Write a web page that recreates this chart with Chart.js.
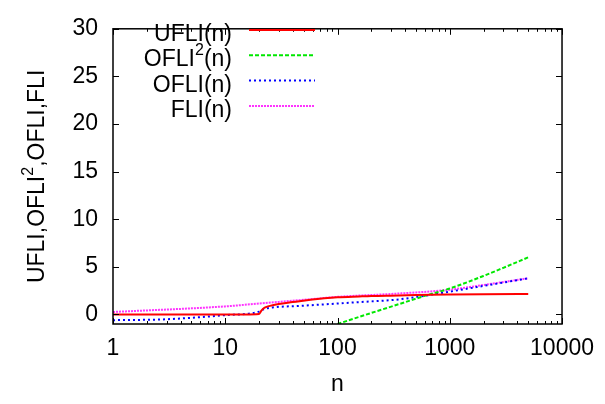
<!DOCTYPE html>
<html>
<head>
<meta charset="utf-8">
<script src="https://cdn.jsdelivr.net/npm/chart.js@4/dist/chart.umd.min.js"></script>
<style>
  html, body { margin: 0; padding: 0; background: #fff; }
  #wrap { width: 605px; height: 404px; }
</style>
</head>
<body>
<div id="wrap"><canvas id="fliChart" width="605" height="404"></canvas></div>
<script>
// iteration counts and indicator values
var n_ufli = [1, 5, 10, 15, 20, 21, 22, 24, 27, 30, 40, 46, 60, 100, 156, 200, 350, 500, 1000, 2000, 5000];
var ufli   = [0, 0, 0, 0, 0.05, 0.4, 0.65, 0.85, 1.0, 1.1, 1.3, 1.4, 1.58, 1.8, 1.9, 1.95, 2.0, 2.05, 2.1, 2.13, 2.15];

var n_ofli2 = [100, 200, 400, 610, 1000, 2000, 3000, 5000];
var ofli2   = [-1.0, 0.16, 1.29, 1.98, 2.73, 4.05, 4.9, 6.0];

var n_ofli = [1, 3, 10, 20, 22, 27, 46, 100, 156, 350, 1000, 2000, 5000];
var ofli   = [-0.6, -0.5, -0.07, 0.3, 0.55, 0.75, 0.9, 1.15, 1.3, 1.58, 2.4, 3.0, 3.8];

var n_fli = [1, 10, 20, 46, 100, 350, 1000, 2000, 5000];
var fli   = [0.26, 0.85, 1.15, 1.5, 1.85, 2.2, 2.6, 3.1, 3.8];

var x_ticks = [1, 10, 100, 1000, 10000];
var y_ticks = [0, 5, 10, 15, 20, 25, 30];

// text pieces: [text, superscript?]
var key_labels = [
    [["UFLI(n)", false]],
    [["OFLI", false], ["2", true], ["(n)", false]],
    [["OFLI(n)", false]],
    [["FLI(n)", false]],
];
var y_title = [["UFLI,OFLI", false], ["2", true], [",OFLI,FLI", false]];

function pts(xs, ys) {
    return xs.map((x, i) => ({ x: x, y: ys[i] }));
}

var FONT = "'Liberation Sans', Arial, sans-serif";
var FONT_MAIN = "23px " + FONT;
var FONT_SUP = "16px " + FONT;

var datasets = [
    { label: "UFLI(n)", data: pts(n_ufli, ufli), borderColor: "#ff0000", borderWidth: 2, borderDash: [] },
    { label: "OFLI2(n)", data: pts(n_ofli2, ofli2), borderColor: "#00e800", borderWidth: 2, borderDash: [4, 2] },
    { label: "OFLI(n)", data: pts(n_ofli, ofli), borderColor: "#0000ff", borderWidth: 2, borderDash: [2, 3] },
    { label: "FLI(n)", data: pts(n_fli, fli), borderColor: "#ff33ff", borderWidth: 2, borderDash: [2, 1] },
];
datasets.forEach((d) => {
    d.pointRadius = 0;
    d.fill = false;
    d.cubicInterpolationMode = "monotone";
});

// width of a run of pieces, superscripts in the smaller font
function runWidth(ctx, parts) {
    var w = 0;
    parts.forEach((p) => {
        ctx.font = p[1] ? FONT_SUP : FONT_MAIN;
        w += ctx.measureText(p[0]).width;
    });
    return w;
}

// draw pieces left to right starting at x on baseline y
function drawRun(ctx, parts, x, y) {
    ctx.textAlign = "left";
    ctx.textBaseline = "alphabetic";
    parts.forEach((p) => {
        ctx.font = p[1] ? FONT_SUP : FONT_MAIN;
        ctx.fillText(p[0], x, p[1] ? y - 11.5 : y);
        x += ctx.measureText(p[0]).width;
    });
}

// gnuplot style frame: border with inward ticks on all four sides, key and y label
var framePlugin = {
    id: "frame",
    afterDraw(chart) {
        var ctx = chart.ctx;
        var a = chart.chartArea;
        var xs = chart.scales.x;
        var ys = chart.scales.y;
        ctx.save();
        ctx.strokeStyle = "#000";
        ctx.lineWidth = 1.5;
        ctx.strokeRect(a.left, a.top, a.right - a.left, a.bottom - a.top);
        ctx.lineWidth = 1;
        ctx.beginPath();
        for (var d = 1; d <= 10000; d *= 10) {
            for (var m = 1; m <= 9; m++) {
                var v = m * d;
                if (v > 10000) break;
                var px = Math.round(xs.getPixelForValue(v)) + 0.5;
                var len = m === 1 ? 6 : 3;
                ctx.moveTo(px, a.bottom);
                ctx.lineTo(px, a.bottom - len);
                ctx.moveTo(px, a.top);
                ctx.lineTo(px, a.top + len);
            }
        }
        y_ticks.forEach((v) => {
            var py = Math.round(ys.getPixelForValue(v)) + 0.5;
            ctx.moveTo(a.left, py);
            ctx.lineTo(a.left + 6, py);
            ctx.moveTo(a.right, py);
            ctx.lineTo(a.right - 6, py);
        });
        ctx.stroke();

        // key: right aligned text followed by a line sample
        ctx.fillStyle = "#000";
        chart.data.datasets.forEach((ds, i) => {
            var y = 30 + i * 25.3;
            var parts = key_labels[i];
            drawRun(ctx, parts, 232 - runWidth(ctx, parts), y + 11);
            ctx.beginPath();
            ctx.strokeStyle = ds.borderColor;
            ctx.lineWidth = ds.borderWidth;
            ctx.setLineDash(ds.borderDash);
            ctx.moveTo(249, y);
            ctx.lineTo(315, y);
            ctx.stroke();
        });
        ctx.setLineDash([]);

        // rotated y axis label
        ctx.translate(44, (a.top + a.bottom) / 2);
        ctx.rotate(-Math.PI / 2);
        drawRun(ctx, y_title, -runWidth(ctx, y_title) / 2, 0);
        ctx.restore();
    },
};

new Chart(document.getElementById("fliChart"), {
    type: "line",
    data: { datasets: datasets },
    options: {
        responsive: false,
        animation: false,
        layout: { padding: { top: 12, right: 41, left: 0, bottom: 0 } },
        plugins: { legend: { display: false }, tooltip: { enabled: false } },
        scales: {
            x: {
                type: "logarithmic",
                min: 1,
                max: 10000,
                afterBuildTicks: (s) => { s.ticks = x_ticks.map((v) => ({ value: v })); },
                afterFit: (s) => { s.height = 80; },
                grid: { display: false, drawTicks: false },
                border: { display: false },
                ticks: {
                    color: "#000",
                    font: { family: FONT, size: 23 },
                    padding: 11,
                    maxRotation: 0,
                    autoSkip: false,
                    callback: (v) => String(v),
                },
                title: {
                    display: true,
                    text: "n",
                    color: "#000",
                    font: { family: FONT, size: 23 },
                    padding: { top: 0, bottom: 6 },
                },
            },
            y: {
                type: "linear",
                min: -1,
                max: 30,
                afterBuildTicks: (s) => { s.ticks = y_ticks.map((v) => ({ value: v })); },
                afterFit: (s) => { s.width = 113; },
                grid: { display: false, drawTicks: false },
                border: { display: false },
                ticks: {
                    color: "#000",
                    font: { family: FONT, size: 23 },
                    padding: 15,
                    callback: (v) => String(v),
                },
            },
        },
    },
    plugins: [framePlugin],
});
</script>
</body>
</html>
